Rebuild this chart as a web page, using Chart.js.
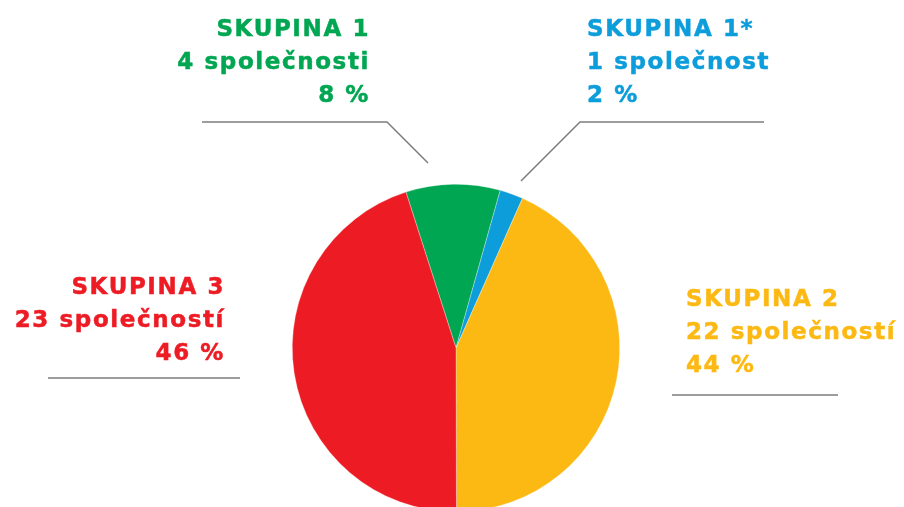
<!DOCTYPE html>
<html>
<head>
<meta charset="utf-8">
<script src="https://cdn.jsdelivr.net/npm/chart.js@4"></script>
<style>
    html, body { margin: 0; padding: 0; background: #fff; overflow: hidden; }
    #wrap { position: relative; width: 904px; height: 507px; overflow: hidden; }
    #box { position: absolute; left: 0; top: 0; width: 904px; height: 698px; }
    .lbl {
        position: absolute;
        font-family: "DejaVu Sans", sans-serif;
        font-weight: bold;
        font-size: 23px;
        line-height: 33px;
        letter-spacing: 1.6px;
        white-space: nowrap;
        -webkit-text-stroke: 0.5px currentColor;
    }
</style>
</head>
<body>
<div id="wrap">
    <div id="box"><canvas id="pie"></canvas></div>
</div>
<script>
    // groups as printed on the chart
    var groups = ['SKUPINA 1', 'SKUPINA 1*', 'SKUPINA 2', 'SKUPINA 3'];
    var companies = ['4 společnosti', '1 společnost', '22 společností', '23 společností'];
    var percents = ['8 %', '2 %', '44 %', '46 %'];
    // slice sizes as drawn in the picture (degrees of arc / 3.6)
    var sliceValues = [9.3, 2.3, 43.3, 45.1];
    var colors = ['#00a651', '#0d9ddb', '#fdb913', '#ed1c24'];

    // label boxes: edge x, top of first line, align
    var labelPos = [
        { x: 370, y: 12, align: 'right' },
        { x: 587, y: 12, align: 'left' },
        { x: 686, y: 282, align: 'left' },
        { x: 225, y: 270, align: 'right' }
    ];

    // leader lines (polyline points)
    var leaders = [
        [[202, 122], [387, 122], [428, 163]],
        [[521, 181], [580, 122], [764, 122]],
        [[672, 395], [838, 395]],
        [[48, 378], [240, 378]]
    ];

    var wrap = document.getElementById('wrap');
    groups.forEach(function (g, i) {
        var el = document.createElement('div');
        el.className = 'lbl';
        el.style.color = colors[i];
        el.style.textAlign = labelPos[i].align;
        el.style.top = labelPos[i].y + 'px';
        if (labelPos[i].align === 'right') {
            el.style.right = (904 - labelPos[i].x) + 'px';
        } else {
            el.style.left = labelPos[i].x + 'px';
        }
        el.innerHTML = g + '<br>' + companies[i] + '<br>' + percents[i];
        wrap.appendChild(el);
    });

    var leaderPlugin = {
        id: 'leaders',
        afterDraw: function (chart) {
            var ctx = chart.ctx;
            ctx.save();
            ctx.strokeStyle = '#7d7d7d';
            ctx.lineWidth = 1.5;
            leaders.forEach(function (pts) {
                ctx.beginPath();
                pts.forEach(function (p, j) {
                    if (j === 0) ctx.moveTo(p[0], p[1]);
                    else ctx.lineTo(p[0], p[1]);
                });
                ctx.stroke();
            });
            ctx.restore();
        }
    };

    new Chart(document.getElementById('pie'), {
        type: 'pie',
        data: {
            labels: groups,
            datasets: [{
                data: sliceValues,
                backgroundColor: colors,
                borderColor: 'rgba(255,255,255,0.6)',
                borderWidth: 0.5
            }]
        },
        options: {
            responsive: true,
            maintainAspectRatio: false,
            animation: false,
            rotation: -17.8,
            layout: { padding: { top: 184, bottom: 186, left: 8, right: 0 } },
            plugins: {
                legend: { display: false },
                tooltip: { enabled: false }
            }
        },
        plugins: [leaderPlugin]
    });
</script>
</body>
</html>
